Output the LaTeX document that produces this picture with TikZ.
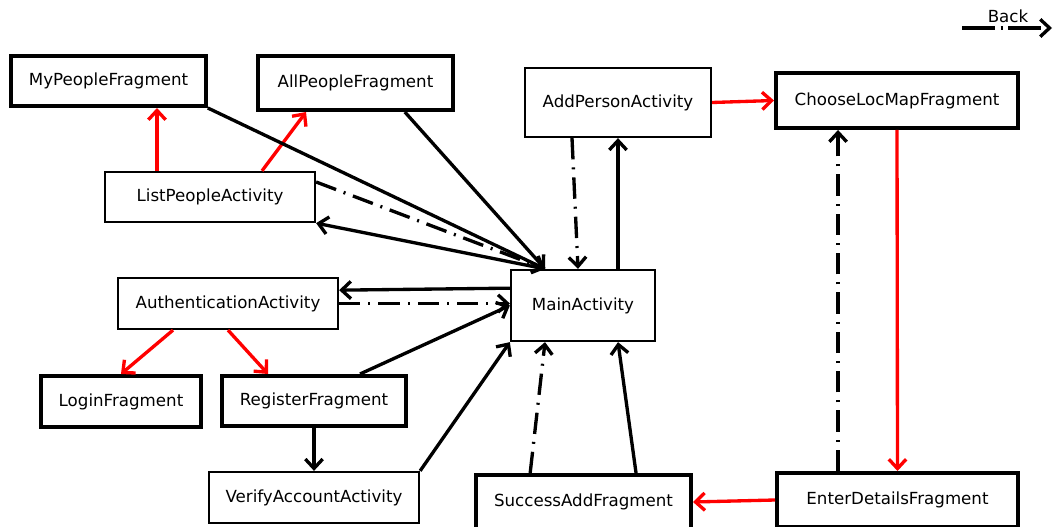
\documentclass[tikz,border=0pt]{standalone}
\usepackage{fontspec}
\setmainfont{DejaVu Sans}
\usepackage{xcolor}
\usepackage{tikz}
\usetikzlibrary{arrows.meta, positioning, calc}
\definecolor{navred}{RGB}{255,0,0}

\begin{document}
\begin{tikzpicture}[
  x=0.75pt, y=-0.75pt,
  every node/.style={font=\fontsize{12.5}{14}\selectfont},
  actbox/.style={rectangle, draw, line width=1.7pt, fill=white, inner sep=2pt},
  fragbox/.style={rectangle, draw, line width=3pt, fill=white, inner sep=2pt},
  arr/.style={-{Straight Barb[length=7pt,width=13pt]}, line width=2.5pt},
  navarr/.style={arr, draw=navred},
  backarr/.style={arr, dash pattern=on 16pt off 6pt on 1.5pt off 6pt}
]
\useasboundingbox (0,0) rectangle (1056,527);
\node[fragbox, minimum width=146pt, minimum height=37.5pt] (mypeople) at (108.5,81) {MyPeopleFragment};
\node[fragbox, minimum width=146pt, minimum height=40.5pt] (allpeople) at (355.5,83) {AllPeopleFragment};
\node[actbox, minimum width=157.5pt, minimum height=37.5pt] (listpeople) at (210,197) {ListPeopleActivity};
\node[actbox, minimum width=139.5pt, minimum height=51.75pt] (addperson) at (618,102.5) {AddPersonActivity};
\node[fragbox, minimum width=181.5pt, minimum height=41.25pt] (chooseloc) at (897,100.5) {ChooseLocMapFragment};
\node[actbox, minimum width=108pt, minimum height=53.25pt] (main) at (583,305.5) {MainActivity};
\node[actbox, minimum width=165pt, minimum height=38.25pt] (auth) at (228,303.5) {AuthenticationActivity};
\node[fragbox, minimum width=120pt, minimum height=38.25pt] (login) at (121,401.5) {LoginFragment};
\node[fragbox, minimum width=138pt, minimum height=37.5pt] (register) at (314,401) {RegisterFragment};
\node[actbox, minimum width=157.5pt, minimum height=38.25pt] (verify) at (314,497.5) {VerifyAccountActivity};
\node[fragbox, minimum width=161.25pt, minimum height=40.5pt] (successadd) at (583.5,502) {SuccessAddFragment};
\node[fragbox, minimum width=180.75pt, minimum height=40.5pt] (enterdetails) at (897.5,500) {EnterDetailsFragment};
\coordinate (backstart) at (962,28);
\coordinate (backend) at (1052,28);
\node[inner sep=1pt] (backlabel) at (1008,16) {Back};
\draw[backarr, dash pattern=on 25pt off 4pt on 1.5pt off 4pt] (backstart) -- (backend);
\draw[navarr] ([xshift=-39.75pt]listpeople.north) -- ([xshift=-39.75pt]listpeople.north |- mypeople.south);
\draw[navarr] ([xshift=39pt]listpeople.north) -- ([xshift=-37.1pt]allpeople.south);
\draw[arr] (mypeople.south east) -- ([xshift=-28.5pt]main.north);
\draw[arr] ([xshift=37pt]allpeople.south) -- ([xshift=-28.5pt]main.north);
\draw[backarr] ([yshift=11.25pt]listpeople.east) -- ([xshift=-28.5pt]main.north);
\draw[arr] ([xshift=-28.5pt]main.north) -- (listpeople.south east);
\draw[arr] ([yshift=13pt]main.west) -- ([yshift=10pt]auth.east);
\draw[backarr] (auth.east) -- (auth.east -| main.west);
\draw[navarr] ([xshift=-41.25pt]auth.south) -- (login.north);
\draw[navarr] (auth.south) -- ([xshift=-34.5pt]register.north);
\draw[arr] ([xshift=34.5pt]register.north) -- (main.west);
\draw[arr] (register.south) -- (verify.north);
\draw[arr] (verify.north east) -- (main.south west);
\draw[backarr] ([xshift=-34.5pt]addperson.south) -- ([xshift=-3.75pt]main.north);
\draw[arr] ([xshift=26.25pt]main.north) -- ([xshift=26.25pt]main.north |- addperson.south);
\draw[navarr] (addperson.east) -- (chooseloc.west);
\draw[navarr] (chooseloc.south) -- (enterdetails.north);
\draw[backarr] ([xshift=-44.6pt]enterdetails.north) -- ([xshift=-44.6pt]enterdetails.north |- chooseloc.south);
\draw[navarr] (enterdetails.west) -- (successadd.east);
\draw[backarr] ([xshift=-40pt]successadd.north) -- ([xshift=-28.5pt]main.south);
\draw[arr] ([xshift=39.4pt]successadd.north) -- ([xshift=26.25pt]main.south);
\end{tikzpicture}
\end{document}
